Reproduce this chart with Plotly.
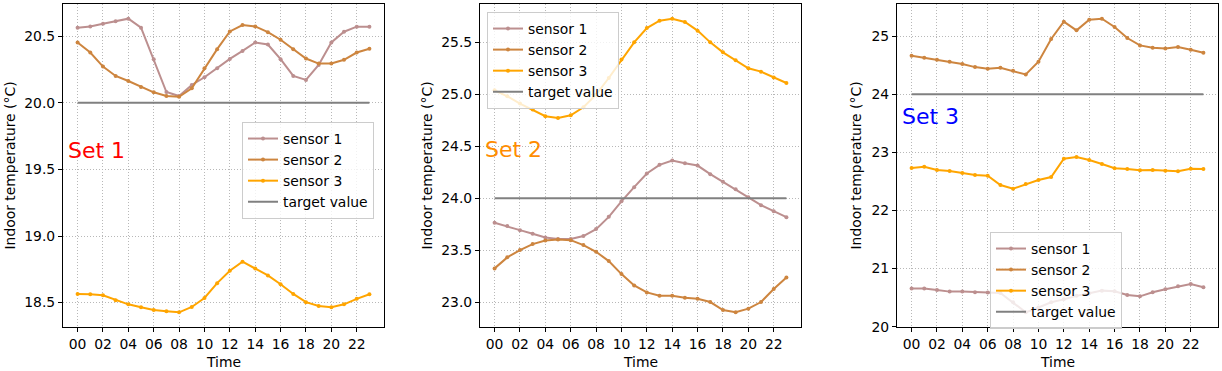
import plotly.graph_objects as go

hours = list(range(24))
tick_vals = list(range(0, 24, 2))
tick_text = [f"{h:02d}" for h in tick_vals]

series_names = ["sensor 1", "sensor 2", "sensor 3", "target value"]
series_modes = ["lines+markers", "lines+markers", "lines+markers", "lines"]
colors = ["#bc8f8f", "#cd853f", "#ffa500", "#808080"]

set1_sensor1 = [20.564, 20.574, 20.594, 20.612, 20.632, 20.564, 20.328, 20.081, 20.051, 20.134, 20.192, 20.26,
                20.33, 20.39, 20.453, 20.438, 20.328, 20.202, 20.172, 20.285, 20.453, 20.534, 20.572, 20.572]
set1_sensor2 = [20.453, 20.378, 20.272, 20.202, 20.164, 20.119, 20.079, 20.051, 20.046, 20.109, 20.26, 20.403,
                20.536, 20.584, 20.574, 20.531, 20.474, 20.403, 20.333, 20.295, 20.295, 20.323, 20.378, 20.406]
set1_sensor3 = [18.565, 18.563, 18.555, 18.518, 18.487, 18.465, 18.445, 18.435, 18.427, 18.467, 18.535, 18.646,
                18.739, 18.807, 18.756, 18.704, 18.638, 18.565, 18.503, 18.475, 18.465, 18.487, 18.528, 18.563]
set1_target = [20.0] * 24

set2_sensor1 = [23.763, 23.731, 23.692, 23.657, 23.622, 23.606, 23.606, 23.635, 23.702, 23.82, 23.97, 24.106,
                24.237, 24.321, 24.362, 24.337, 24.314, 24.231, 24.157, 24.087, 24.01, 23.933, 23.875, 23.817]
set2_sensor2 = [23.324, 23.43, 23.5, 23.558, 23.593, 23.603, 23.596, 23.548, 23.484, 23.394, 23.269, 23.16,
                23.093, 23.061, 23.061, 23.042, 23.032, 23.0, 22.923, 22.901, 22.936, 23.0, 23.125, 23.237]
set2_sensor3 = [25.039, 24.981, 24.911, 24.853, 24.789, 24.773, 24.798, 24.875, 24.997, 25.157, 25.334, 25.5,
                25.638, 25.709, 25.728, 25.696, 25.613, 25.5, 25.404, 25.327, 25.25, 25.218, 25.161, 25.109]
set2_target = [24.0] * 24

set3_sensor1 = [20.655, 20.655, 20.632, 20.603, 20.603, 20.591, 20.586, 20.58, 20.42, 20.247, 20.33, 20.42,
                20.47, 20.53, 20.574, 20.62, 20.609, 20.545, 20.522, 20.591, 20.643, 20.695, 20.735, 20.678]
set3_sensor2 = [24.66, 24.626, 24.591, 24.557, 24.517, 24.465, 24.436, 24.453, 24.402, 24.338, 24.557, 24.948,
                25.247, 25.097, 25.281, 25.298, 25.155, 24.965, 24.838, 24.798, 24.787, 24.81, 24.764, 24.712]
set3_sensor3 = [22.729, 22.752, 22.695, 22.678, 22.643, 22.609, 22.597, 22.436, 22.373, 22.453, 22.522, 22.574,
                22.89, 22.919, 22.867, 22.798, 22.724, 22.712, 22.689, 22.695, 22.683, 22.672, 22.718, 22.712]
set3_target = [24.0] * 24

set_labels = ["Set 1", "Set 2", "Set 3"]
set_label_colors = ["#ff0000", "#ff8c00", "#0000ff"]
set_label_y = [19.64, 24.47, 23.61]
y_dticks = [0.5, 0.5, 1]
y_formats = [".1f", ".1f", "d"]

sets = [
    [set1_sensor1, set1_sensor2, set1_sensor3, set1_target],
    [set2_sensor1, set2_sensor2, set2_sensor3, set2_target],
    [set3_sensor1, set3_sensor2, set3_sensor3, set3_target],
]

W, H = 1222, 371
x_domains = [(63 / W, 384 / W), (480 / W, 801 / W), (897 / W, 1218 / W)]
y_domain = (1 - 327 / H, 1 - 4 / H)
legend_pos = [(242 / W, 1 - 122 / H), (487 / W, 1 - 12 / H), (990 / W, 1 - 232 / H)]
ytitle_x = [9.5, 426.5, 855.5]

FONT = "DejaVu Sans"
FS = 13.9
GRID = "#b8b8b8"

fig = go.Figure()
layout = dict(
    width=W, height=H,
    margin=dict(l=0, r=0, t=0, b=0, autoexpand=False),
    paper_bgcolor="white", plot_bgcolor="white",
    font=dict(family=FONT, size=FS, color="black"),
    annotations=[],
)

for i, data in enumerate(sets):
    ax = "" if i == 0 else str(i + 1)
    leg = "legend" if i == 0 else f"legend{i + 1}"
    for name, mode, vals, c in zip(series_names, series_modes, data, colors):
        fig.add_trace(go.Scatter(
            x=hours, y=vals, name=name, mode=mode,
            line=dict(color=c, width=2), marker=dict(color=c, size=4),
            xaxis="x" + ax, yaxis="y" + ax, legend=leg, showlegend=True,
        ))
    allv = [v for s in data for v in s]
    lo, hi = min(allv), max(allv)
    pad = (hi - lo) * 0.05
    layout["xaxis" + ax] = dict(
        domain=list(x_domains[i]), anchor="y" + ax, range=[-1.15, 24.15],
        tickmode="array", tickvals=tick_vals, ticktext=tick_text,
        showline=True, linecolor="black", linewidth=1, mirror=True,
        ticks="outside", ticklen=4, tickcolor="black",
        showgrid=True, gridcolor=GRID, griddash="1px,2px", gridwidth=1,
        zeroline=False, tickfont=dict(size=FS), automargin=False,
    )
    layout["yaxis" + ax] = dict(
        domain=list(y_domain), anchor="x" + ax, range=[lo - pad, hi + pad],
        dtick=y_dticks[i], tick0=0, tickformat=y_formats[i],
        showline=True, linecolor="black", linewidth=1, mirror=True,
        ticks="outside", ticklen=4, tickcolor="black",
        showgrid=True, gridcolor=GRID, griddash="1px,2px", gridwidth=1,
        zeroline=False, tickfont=dict(size=FS), automargin=False,
    )
    layout[leg] = dict(
        x=legend_pos[i][0], y=legend_pos[i][1], xanchor="left", yanchor="top",
        bgcolor="rgba(255,255,255,0.8)", bordercolor="#cccccc", borderwidth=1,
        font=dict(size=FS), traceorder="normal",
    )
    layout["annotations"].append(dict(
        x=-0.95, y=set_label_y[i], xref="x" + ax, yref="y" + ax,
        text=set_labels[i], showarrow=False, xanchor="left", yanchor="middle",
        font=dict(size=22, color=set_label_colors[i]),
    ))
    layout["annotations"].append(dict(
        x=ytitle_x[i] / W, y=1 - 166 / H, xref="paper", yref="paper",
        text="Indoor temperature (°C)", showarrow=False, textangle=-90,
        xanchor="center", yanchor="middle", font=dict(size=FS),
    ))
    layout["annotations"].append(dict(
        x=(x_domains[i][0] + x_domains[i][1]) / 2, y=1 - 362 / H, xref="paper", yref="paper",
        text="Time", showarrow=False, xanchor="center", yanchor="middle", font=dict(size=FS),
    ))

fig.update_layout(**layout)

post = """
document.documentElement.style.margin='0';document.documentElement.style.padding='0';
document.body.style.margin='0';document.body.style.padding='0';
document.documentElement.style.overflow='hidden';document.body.style.overflow='hidden';
"""
fig.write_html("out.html", config={"displayModeBar": False}, post_script=post)
